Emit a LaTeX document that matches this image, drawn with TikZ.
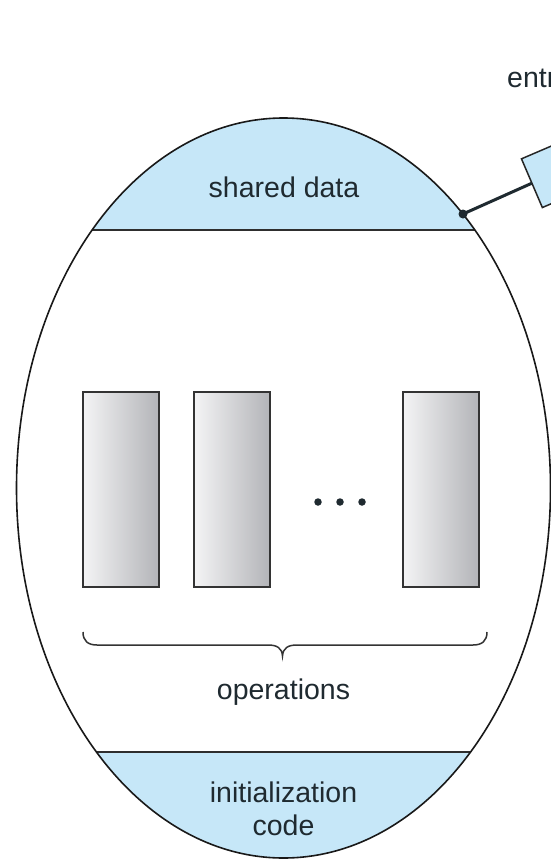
\documentclass[tikz,border=0pt]{standalone}
\usepackage{fontspec}
\setmainfont{Liberation Sans}
\definecolor{paleblue}{HTML}{C6E7F8}
\definecolor{ink}{HTML}{1F2A30}
\definecolor{oplight}{HTML}{F4F4F5}
\definecolor{opdark}{HTML}{B3B4B8}
\begin{document}
\begin{tikzpicture}[x=1pt,y=-1pt,
  lbl/.style={font=\fontsize{28.5}{33}\selectfont, text=ink, inner sep=0pt, anchor=base},
  opbox/.style={draw=black!80, line width=1.5pt, shading=axis, left color=oplight, right color=opdark,
                minimum width=76pt, minimum height=195pt, inner sep=0pt, outer sep=0pt, anchor=north west},
  divider/.style={line width=2.3pt, draw=black!82},
  outline/.style={line width=1.6pt, draw=black!90},
  queuebox/.style={draw=black!85, fill=paleblue, line width=1.5pt, minimum width=72pt, minimum height=53pt,
                   inner sep=0pt, outer sep=0pt, rotate=23.2},
  dotmark/.style={circle, fill=ink, inner sep=0pt, minimum size=9pt},
  ellipsisdot/.style={circle, fill=ink, inner sep=0pt, minimum size=7.5pt}]
\useasboundingbox (0,0) rectangle (551,860);
\clip (0,0) rectangle (551,860);
\fill[white] (0,0) rectangle (551,860);
% blue caps inside the egg
\begin{scope}
  \clip (283.5,488) ellipse [x radius=267, y radius=370];
  \fill[paleblue] (0,0) rectangle (551,230);
  \fill[paleblue] (0,752) rectangle (551,860);
\end{scope}
% dividers
\coordinate (sdL) at (92.1,230);
\coordinate (sdR) at (474.9,230);
\coordinate (icL) at (96.4,752);
\coordinate (icR) at (470.6,752);
\draw[divider] (sdL) -- (sdR);
\draw[divider] (icL) -- (icR);
% egg outline
\draw[outline] (283.5,488) ellipse [x radius=267, y radius=370];
% entry queue box and connector
\node[queuebox] (queue) at (565,169) {};
\node[dotmark] (dot) at (463,214) {};
\draw[line width=3pt, draw=ink] (dot.center) -- (queue.west);
\node[lbl, anchor=base west] (entry) at (507,87) {entr};
% labels
\node[lbl] (shared) at (284,197) {shared data};
\node[lbl] (ops) at (283.5,699) {operations};
\node[lbl] (init) at (283.5,802) {initialization};
\node[lbl] (code) at (283.5,835) {code};
% operation boxes
\node[opbox] (op1) at (83,392) {};
\node[opbox] (op2) at (194,392) {};
\node[opbox] (op3) at (403,392) {};
\node[ellipsisdot] (d1) at (318,502) {};
\node[ellipsisdot] (d2) at (340,502) {};
\node[ellipsisdot] (d3) at (362,502) {};
% brace
\coordinate (bL) at (83,632);
\coordinate (bR) at (487,632);
\coordinate (bT) at (282.5,656);
\draw[line width=1.5pt, draw=black!80]
  (bL) .. controls (83,641) and (88,645) .. (97,645) -- (268,645)
  .. controls (277,645) and (282,648) .. (bT)
  .. controls (283,648) and (288,645) .. (297,645) -- (473,645)
  .. controls (482,645) and (487,641) .. (bR);
\end{tikzpicture}
\end{document}
